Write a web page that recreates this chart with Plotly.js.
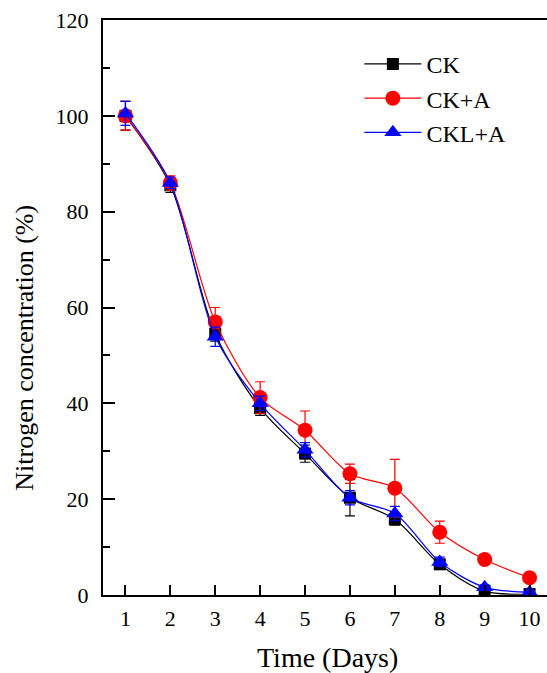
<!DOCTYPE html>
<html>
<head>
<meta charset="utf-8">
<script src="https://cdn.plot.ly/plotly-3.0.1.min.js"></script>
<style>
html,body{margin:0;padding:0;overflow:hidden;background:#fff;}
#chart{width:552px;height:673px;}
</style>
</head>
<body>
<div id="chart"></div>
<script>
const days = [1, 2, 3, 4, 5, 6, 7, 8, 9, 10];
const ck = [100, 85.5, 54.5, 39, 29.5, 20.3, 15.8, 6.4, 0.8, 0.2];
const ckErr = [3, 1.5, 1.5, 1.5, 1.8, 3.8, 1.2, 1, 0.5, 0.3];
const ckA = [100, 86, 57, 41.2, 34.4, 25.3, 22.3, 13.1, 7.4, 3.6];
const ckAErr = [3, 1.5, 3, 3.3, 4, 2, 6, 2.3, 1, 0.5];
const cklA = [100.5, 86, 53.9, 40, 30.3, 20.3, 17, 6.9, 1.6, 0.6];
const cklAErr = [2.5, 1.2, 2, 1.5, 1.5, 1.5, 1.5, 1, 0.5, 0.3];
const names = ['CK', 'CK+A', 'CKL+A'];
const yTicks = [0, 20, 40, 60, 80, 100, 120];
const xTicks = days;

function tr(y, err, name, color, symbol, size) {
  return {
    x: days, y: y, name: name, type: 'scatter', mode: 'lines+markers',
    line: {color: color, width: 1.2, shape: 'spline', smoothing: 0.85},
    marker: {color: color, symbol: symbol, size: size},
    error_y: {type: 'data', array: err, visible: true, color: color, thickness: 1.2, width: 5}
  };
}
const data = [
  tr(ck, ckErr, names[0], '#000000', 'square', 12),
  tr(ckA, ckAErr, names[1], '#FF0000', 'circle', 15),
  tr(cklA, cklAErr, names[2], '#0000FF', 'triangle-up', 15)
];
const font = {family: '"Liberation Serif", "Times New Roman", serif', color: '#000'};
const layout = {
  width: 552, height: 673,
  margin: {l: 103, r: 0, t: 20, b: 78},
  paper_bgcolor: '#fff', plot_bgcolor: '#fff',
  font: font,
  showlegend: true,
  legend: {x: 0.571, y: 0.962, xanchor: 'left', yanchor: 'top', bgcolor: 'rgba(0,0,0,0)',
    font: Object.assign({}, font, {size: 24}), itemwidth: 57, tracegroupgap: 0},
  xaxis: {
    range: [0.5, 10.5], tickvals: xTicks, ticktext: xTicks.map(String),
    ticks: 'inside', ticklen: 10, tickwidth: 2, tickcolor: '#000',
    showline: true, linewidth: 2, linecolor: '#000', mirror: true,
    showgrid: false, zeroline: false, ticklabelstandoff: 3,
    tickfont: Object.assign({}, font, {size: 22})
  },
  yaxis: {
    range: [0, 120], tickvals: yTicks, ticktext: yTicks.map(String),
    ticks: 'inside', ticklen: 12, tickwidth: 2, tickcolor: '#000',
    minor: {ticks: 'inside', ticklen: 7, tickwidth: 2, tickcolor: '#000', tickvals: [10, 30, 50, 70, 90, 110], showgrid: false},
    showline: true, linewidth: 2, linecolor: '#000', mirror: true,
    showgrid: false, zeroline: false, ticklabelstandoff: 8,
    tickfont: Object.assign({}, font, {size: 22})
  },
  annotations: [
    {text: 'Nitrogen concentration (%)', xref: 'paper', yref: 'paper', x: 0, y: 0.43,
     xanchor: 'center', yanchor: 'middle', xshift: -78, textangle: -90, showarrow: false,
     font: Object.assign({}, font, {size: 26})},
    {text: 'Time (Days)', xref: 'paper', yref: 'paper', x: 0.5, y: 0,
     xanchor: 'center', yanchor: 'middle', yshift: -62, showarrow: false,
     font: Object.assign({}, font, {size: 28})}
  ]
};
Plotly.newPlot('chart', data, layout, {displayModeBar: false, staticPlot: true});
</script>
</body>
</html>
